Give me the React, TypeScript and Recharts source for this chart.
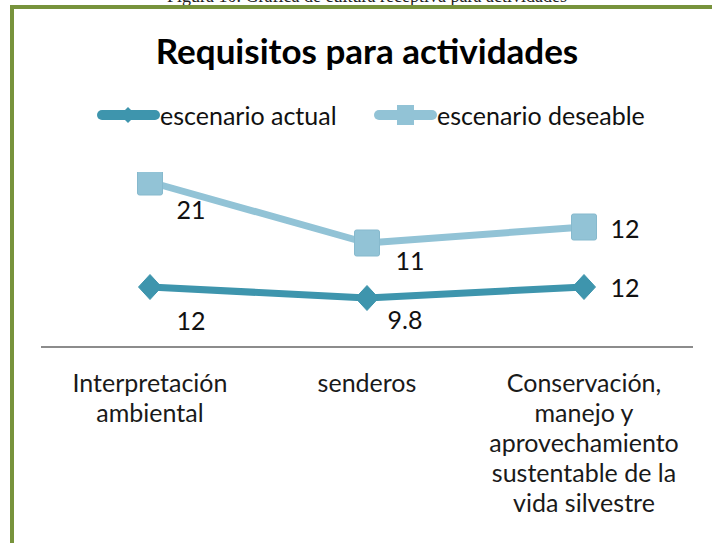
import { AreaChart, Area, XAxis, YAxis, Legend, LabelList } from "recharts";

// categories, values and tick label lines
const categories = [
  "Interpretación ambiental",
  "senderos",
  "Conservación, manejo y aprovechamiento sustentable de la vida silvestre",
];
const tickLines = [
  ["Interpretación", "ambiental"],
  ["senderos"],
  ["Conservación,", "manejo y", "aprovechamiento", "sustentable de la", "vida silvestre"],
];
const actual = [12, 9.8, 12];
const deseable = [21, 11, 12];
const seriesNames = ["escenario actual", "escenario deseable"];
const yDomain = [0, 35];

const title = "Requisitos para actividades";
const caption = "Figura 10. Gráfica de cultura receptiva para actividades";

// styling
const FONT = "Lato, 'Open Sans', sans-serif";
const ACTUAL_COLOR = "#3E95AD";
const DESEABLE_COLOR = "#92C3D6";
const BORDER_COLOR = "#77933C";

// label nudges (dx, dy) as placed by hand in the original
const actualLabelNudge = [
  [41, 33],
  [38, 21],
  [41, 0],
];
const deseableLabelNudge = [
  [41, 27],
  [43, 17],
  [41, 1],
];

const data = categories.map((name, i) => ({
  name,
  actual: actual[i],
  deseable: deseable[i],
}));

function DiamondDot(props: any) {
  const { cx, cy } = props;
  if (cx == null || cy == null) return null;
  return (
    <path
      d={`M${cx},${cy - 12.5} L${cx + 11.5},${cy} L${cx},${cy + 12.5} L${cx - 11.5},${cy} Z`}
      fill={ACTUAL_COLOR}
      stroke={ACTUAL_COLOR}
      strokeWidth={1}
      strokeLinejoin="round"
    />
  );
}

function SquareDot(props: any) {
  const { cx, cy } = props;
  if (cx == null || cy == null) return null;
  return (
    <rect
      x={cx - 12.5}
      y={cy - 13}
      width={25}
      height={26}
      rx={2}
      fill={DESEABLE_COLOR}
      stroke="#86B9CD"
      strokeWidth={1}
    />
  );
}

const makeLabel = (values: number[], nudge: number[][]) => (props: any) => {
  const { x, y, index } = props;
  const [dx, dy] = nudge[index];
  return (
    <text
      x={x + dx}
      y={y + dy}
      textAnchor="middle"
      dominantBaseline="central"
      fontFamily={FONT}
      fontSize={25}
      fill="#111"
    >
      {values[index]}
    </text>
  );
};

function CategoryTick(props: any) {
  const { x, y, payload } = props;
  const lines = tickLines[payload.index] ?? [String(payload.value)];
  return (
    <text x={x} y={y + 45} textAnchor="middle" fontFamily={FONT} fontSize={25} fill="#1a1a1a">
      {lines.map((l, i) => (
        <tspan key={i} x={x} dy={i === 0 ? 0 : 30}>
          {l}
        </tspan>
      ))}
    </text>
  );
}

function LegendContent() {
  const items = [
    { name: seriesNames[0], color: ACTUAL_COLOR, lineX: 97, textX: 160, marker: "diamond" },
    { name: seriesNames[1], color: DESEABLE_COLOR, lineX: 374, textX: 437, marker: "square" },
  ];
  return (
    <svg width={712} height={40} style={{ display: "block" }}>
      {items.map((it) => {
        const mid = it.lineX + 31;
        return (
          <g key={it.name}>
            <line
              x1={it.lineX + 5}
              x2={it.lineX + 58}
              y1={20}
              y2={20}
              stroke={it.color}
              strokeWidth={10}
              strokeLinecap="round"
            />
            {it.marker === "diamond" ? (
              <path d={`M${mid},${12} L${mid + 8},20 L${mid},28 L${mid - 8},20 Z`} fill={it.color} />
            ) : (
              <rect x={mid - 8} y={10} width={17} height={20} fill={it.color} />
            )}
            <text
              x={it.textX}
              y={20}
              dominantBaseline="central"
              fontFamily={FONT}
              fontSize={25}
              fill="#111"
            >
              {it.name}
            </text>
          </g>
        );
      })}
    </svg>
  );
}

export default function App() {
  return (
    <div
      style={{
        position: "absolute",
        left: 0,
        top: 0,
        width: 712,
        height: 543,
        overflow: "hidden",
        background: "#fff",
      }}
    >
      <div
        style={{
          position: "absolute",
          top: -13,
          left: 0,
          width: 734,
          textAlign: "center",
          fontFamily: "'Liberation Serif', serif",
          fontSize: 18,
          lineHeight: "18px",
          whiteSpace: "nowrap",
          color: "#222",
        }}
      >
        {caption}
      </div>
      <div
        style={{
          position: "absolute",
          left: 10,
          top: 5,
          width: 720,
          height: 534,
          borderLeft: `4px solid ${BORDER_COLOR}`,
          borderTop: `4px solid ${BORDER_COLOR}`,
          borderBottom: `4px solid ${BORDER_COLOR}`,
        }}
      />
      <div
        style={{
          position: "absolute",
          left: 0,
          top: 28,
          width: 734,
          textAlign: "center",
          fontFamily: FONT,
          fontWeight: 700,
          fontSize: 35,
          lineHeight: "44px",
          color: "#000",
        }}
      >
        {title}
      </div>
      <div style={{ position: "absolute", left: 0, top: 0 }}>
        <AreaChart
          width={712}
          height={543}
          data={data}
          margin={{ top: 172, right: 19, bottom: 0, left: 41 }}
        >
          <XAxis
            dataKey="name"
            padding={{ left: 109, right: 109 }}
            axisLine={{ stroke: "#8C8C8C", strokeWidth: 2 }}
            tickLine={false}
            tickSize={0}
            tickMargin={0}
            interval={0}
            height={196}
            tick={<CategoryTick />}
          />
          <YAxis hide domain={yDomain} allowDataOverflow />
          <Legend
            verticalAlign="middle"
            content={<LegendContent />}
            wrapperStyle={{ position: "absolute", left: 0, top: 95, width: 712 }}
          />
          <Area
            type="linear"
            dataKey="actual"
            name={seriesNames[0]}
            stackId="s"
            stroke={ACTUAL_COLOR}
            strokeWidth={7}
            strokeLinejoin="round"
            fill="none"
            fillOpacity={0}
            dot={<DiamondDot />}
            activeDot={false}
            isAnimationActive={false}
          >
            <LabelList content={makeLabel(actual, actualLabelNudge)} />
          </Area>
          <Area
            type="linear"
            dataKey="deseable"
            name={seriesNames[1]}
            stackId="s"
            stroke={DESEABLE_COLOR}
            strokeWidth={7}
            strokeLinejoin="round"
            fill="none"
            fillOpacity={0}
            dot={<SquareDot />}
            activeDot={false}
            isAnimationActive={false}
          >
            <LabelList content={makeLabel(deseable, deseableLabelNudge)} />
          </Area>
        </AreaChart>
      </div>
    </div>
  );
}
